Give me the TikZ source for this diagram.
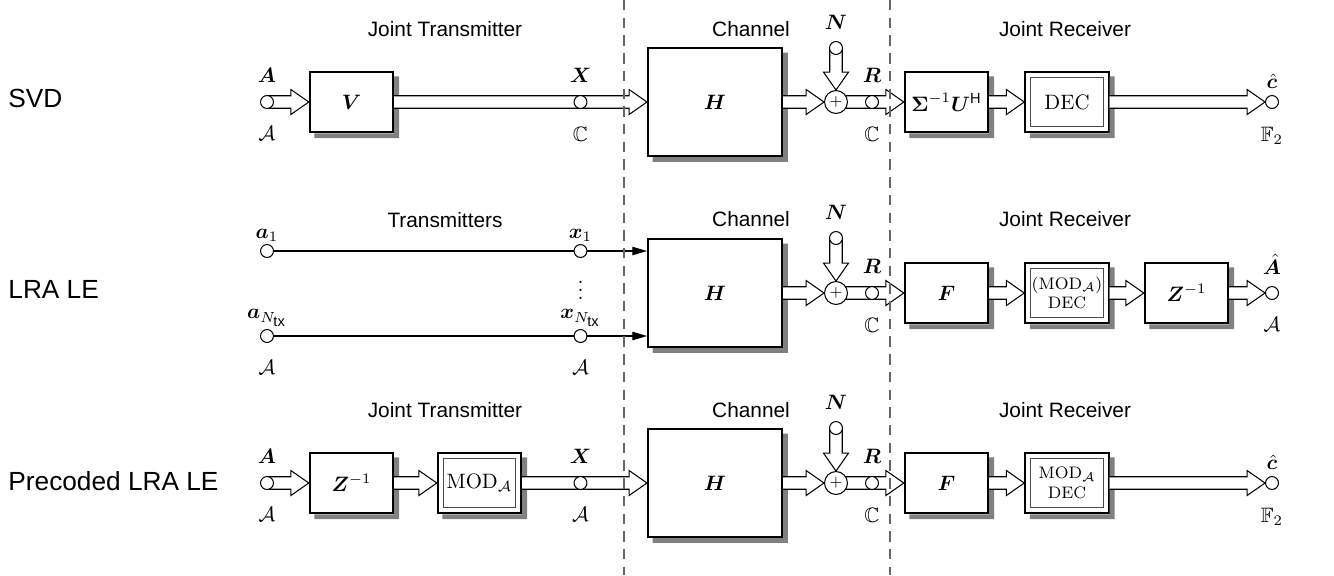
\documentclass[tikz,border=0pt]{standalone}
\usepackage{fontspec}
\setsansfont{Liberation Sans}
\usepackage{amsmath,amssymb,bm}
\usetikzlibrary{arrows.meta, positioning, calc}

\definecolor{shadowgray}{RGB}{128,128,128}

\pgfdeclarelayer{top}
\pgfsetlayers{main,top}

% hollow block arrow: half shaft width, half head width, head length
\newcommand{\fatw}{3pt}
\newcommand{\fathw}{6pt}
\newcommand{\fathl}{8.6pt}

\tikzset{
  blk/.style={draw, line width=1pt, fill=white, inner sep=1pt,
              minimum width=40pt, minimum height=29pt},
  dblk/.style={blk, path picture={
      \draw[line width=0.5pt, black!70]
        ($(path picture bounding box.north west)+(2.7pt,-2.7pt)$) rectangle
        ($(path picture bounding box.south east)+(-2.7pt,2.7pt)$);}},
  chan/.style={blk, minimum width=64.3pt, minimum height=51.8pt},
  boxshadow/.style={fill=shadowgray, draw=none},
  port/.style={draw, circle, fill=white, inner sep=0pt, minimum size=6.2pt,
               line width=0.5pt},
  adder/.style={draw, circle, fill=white, inner sep=0pt, minimum size=11pt,
                line width=0.5pt, font=\scriptsize},
  lbl/.style={inner sep=1pt},
  title/.style={font=\sffamily},
  rowname/.style={font=\sffamily\fontsize{12.6}{15}\selectfont,
                  anchor=west, inner sep=0pt},
  fatarrow/.style={draw, fill=white, line width=0.5pt, to path={
      ($(\tikztotarget)!\fathl!(\tikztostart)$) coordinate (fathead)
      ($(\tikztostart)!\fatw!90:(\tikztotarget)$)
      -- ($(fathead)!\fatw!90:(\tikztotarget)$)
      -- ($(fathead)!\fathw!90:(\tikztotarget)$)
      -- (\tikztotarget)
      -- ($(fathead)!\fathw!-90:(\tikztotarget)$)
      -- ($(fathead)!\fatw!-90:(\tikztotarget)$)
      -- ($(\tikztostart)!\fatw!-90:(\tikztotarget)$)}},
  thinarrow/.style={-{Triangle[length=7pt,width=4pt]}, line width=0.5pt},
  sep/.style={dash pattern=on 5pt off 3.5pt, black!60, line width=0.5pt}
}

\begin{document}
\begin{tikzpicture}[x=0.48pt, y=-0.48pt]
\useasboundingbox (0,0) rectangle (1334,575);

% ports and adders sit above the block arrows
\begin{pgfonlayer}{top}
  % SVD
  \node[port] (pA1) at (267,102) {};
  \node[port] (pX1) at (580.5,102) {};
  \node[adder] (s1) at (836,102) {$+$};
  \node[port] (pN1) at (836,48) {};
  \node[port] (pR1) at (872,102) {};
  \node[port] (pC1) at (1272,102) {};
  % LRA LE
  \node[port] (pa2) at (267,251) {};
  \node[port] (paN2) at (267,336) {};
  \node[port] (px2) at (580.5,251) {};
  \node[port] (pxN2) at (580.5,336) {};
  \node[adder] (s2) at (836,293) {$+$};
  \node[port] (pN2) at (836,238) {};
  \node[port] (pR2) at (872,293) {};
  \node[port] (pAh2) at (1272,293) {};
  % precoded LRA LE
  \node[port] (pA3) at (267,483) {};
  \node[port] (pX3) at (580.5,483) {};
  \node[adder] (s3) at (836,483) {$+$};
  \node[port] (pN3) at (836,428) {};
  \node[port] (pR3) at (872,483) {};
  \node[port] (pC3) at (1272,483) {};
\end{pgfonlayer}

%% SVD
\node[rowname] (r1) at (8,98) {SVD};
\node[title] (t1T) at (445,29) {Joint Transmitter};
\node[title] (t1C) at (751,29) {Channel};
\node[title] (t1R) at (1065,29) {Joint Receiver};

\node[blk] (V1) at (351.5,102) {$\bm{V}$};
\node[chan] (H1) at (715,102) {$\bm{H}$};
\node[blk] (E1) at (946.5,102) {$\bm{\Sigma}^{-1}\bm{U}^{\mathsf{H}}$};
\node[dblk] (D1) at (1067,102) {$\mathrm{DEC}$};

\node[lbl, above=4.7pt of pA1] (lA1) {$\bm{A}$};
\node[lbl, below=7.3pt of pA1] (aA1) {$\mathcal{A}$};
\node[lbl, above=4.7pt of pX1] (lX1) {$\bm{X}$};
\node[lbl, below=7.3pt of pX1] (aX1) {$\mathbb{C}$};
\node[lbl, above=4.5pt of pN1] (lN1) {$\bm{N}$};
\node[lbl, above=4.7pt of pR1] (lR1) {$\bm{R}$};
\node[lbl, below=7.3pt of pR1] (aR1) {$\mathbb{C}$};
\node[lbl, above=2pt of pC1] (lC1) {$\hat{\bm{c}}$};
\node[lbl, below=7.3pt of pC1] (aC1) {$\mathbb{F}_2$};

%% LRA LE
\node[rowname] (r2) at (8,289) {LRA LE};
\node[title] (t2T) at (445,220) {Transmitters};
\node[title] (t2C) at (751,219) {Channel};
\node[title] (t2R) at (1065,219) {Joint Receiver};

\node[chan] (H2) at (715,293) {$\bm{H}$};
\node[blk] (F2) at (946.5,293) {$\bm{F}$};
\node[dblk, align=center, font=\footnotesize] (M2) at (1067,293)
  {(MOD$_{\mathcal{A}}$)\\DEC};
\node[blk] (Z2) at (1186.5,293) {$\bm{Z}^{-1}$};

\node[lbl, above=0pt of pa2] (la2) {$\bm{a}_1$};
\node[lbl, above=0pt of paN2] (laN2) {$\bm{a}_{N_{\scriptstyle\mathsf{tx}}}$};
\node[lbl, below=7.3pt of paN2] (aa2) {$\mathcal{A}$};
\node[lbl, above=0pt of px2] (lx2) {$\bm{x}_1$};
\node[lbl, above=0pt of pxN2] (lxN2) {$\bm{x}_{N_{\scriptstyle\mathsf{tx}}}$};
\node[lbl, below=7.3pt of pxN2] (ax2) {$\mathcal{A}$};
\node[inner sep=0pt] (dots2) at (580.5,284) {$\vdots$};
\node[lbl, above=4.5pt of pN2] (lN2) {$\bm{N}$};
\node[lbl, above=4.7pt of pR2] (lR2) {$\bm{R}$};
\node[lbl, below=7.3pt of pR2] (aR2) {$\mathbb{C}$};
\node[lbl, above=4.5pt of pAh2] (lAh2) {$\hat{\bm{A}}$};
\node[lbl, below=7.3pt of pAh2] (aAh2) {$\mathcal{A}$};

%% precoded LRA LE
\node[rowname] (r3) at (8,481) {Precoded LRA LE};
\node[title] (t3T) at (445,410) {Joint Transmitter};
\node[title] (t3C) at (751,410) {Channel};
\node[title] (t3R) at (1065,410) {Joint Receiver};

\node[blk] (Z3) at (351.5,483) {$\bm{Z}^{-1}$};
\node[dblk] (M3) at (479.5,483) {$\mathrm{MOD}_{\mathcal{A}}$};
\node[chan] (H3) at (715,483) {$\bm{H}$};
\node[blk] (F3) at (946.5,483) {$\bm{F}$};
\node[dblk, align=center, font=\footnotesize] (MD3) at (1067,483)
  {MOD$_{\mathcal{A}}$\\DEC};

\node[lbl, above=4.7pt of pA3] (lA3) {$\bm{A}$};
\node[lbl, below=7.3pt of pA3] (aA3) {$\mathcal{A}$};
\node[lbl, above=4.7pt of pX3] (lX3) {$\bm{X}$};
\node[lbl, below=7.3pt of pX3] (aX3) {$\mathcal{A}$};
\node[lbl, above=4.5pt of pN3] (lN3) {$\bm{N}$};
\node[lbl, above=4.7pt of pR3] (lR3) {$\bm{R}$};
\node[lbl, below=7.3pt of pR3] (aR3) {$\mathbb{C}$};
\node[lbl, above=2pt of pC3] (lC3) {$\hat{\bm{c}}$};
\node[lbl, below=7.3pt of pC3] (aC3) {$\mathbb{F}_2$};

% shadows: an L-shaped strip right of and below every block
\foreach \bx in {V1,H1,E1,D1,H2,F2,M2,Z2,Z3,M3,H3,F3,MD3}
  \fill[boxshadow] ($(\bx.north east)+(0pt,-2.7pt)$)
    -- ($(\bx.north east)+(2.3pt,-2.7pt)$)
    -- ($(\bx.south east)+(2.3pt,-2.3pt)$)
    -- ($(\bx.south west)+(2.7pt,-2.3pt)$)
    -- ($(\bx.south west)+(2.7pt,0pt)$)
    -- (\bx.south east) -- cycle;

%% connectors
\draw[fatarrow] (pA1) to (V1.west);
\draw[fatarrow] (V1.east) to (H1.west);
\draw[fatarrow] (H1.east) to (s1.west);
\draw[fatarrow] (pN1) to (s1.north);
\draw[fatarrow] (s1) to (E1.west);
\draw[fatarrow] (E1.east) to (D1.west);
\draw[fatarrow] (D1.east) to (pC1.west);

\draw[thinarrow] (pa2) -- (pa2 -| H2.west);
\draw[thinarrow] (paN2) -- (paN2 -| H2.west);
\draw[fatarrow] (H2.east) to (s2.west);
\draw[fatarrow] (pN2) to (s2.north);
\draw[fatarrow] (s2) to (F2.west);
\draw[fatarrow] (F2.east) to (M2.west);
\draw[fatarrow] (M2.east) to (Z2.west);
\draw[fatarrow] (Z2.east) to (pAh2.west);

\draw[fatarrow] (pA3) to (Z3.west);
\draw[fatarrow] (Z3.east) to (M3.west);
\draw[fatarrow] (M3.east) to (H3.west);
\draw[fatarrow] (H3.east) to (s3.west);
\draw[fatarrow] (pN3) to (s3.north);
\draw[fatarrow] (s3) to (F3.west);
\draw[fatarrow] (F3.east) to (MD3.west);
\draw[fatarrow] (MD3.east) to (pC3.west);

% section borders
\draw[sep] (624,0) -- (624,575);
\draw[sep] (890,0) -- (890,575);

\end{tikzpicture}
\end{document}
